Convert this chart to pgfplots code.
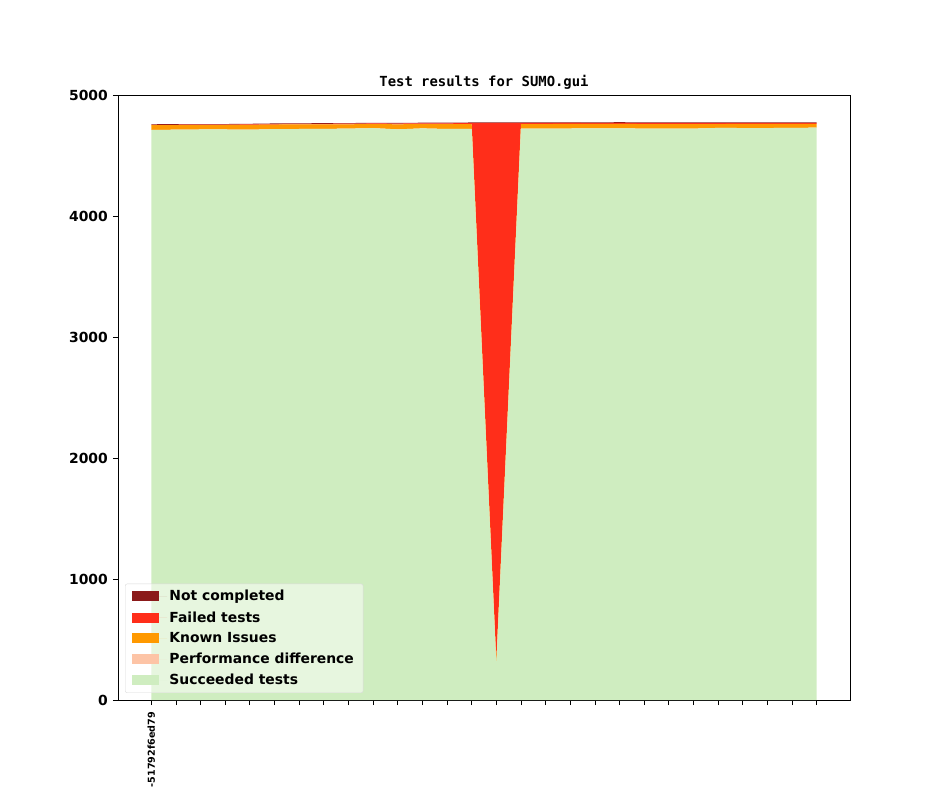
\documentclass[border=0pt]{standalone}
\usepackage{fontspec}
\setmainfont{DejaVu Sans}
\newfontfamily\monofont{DejaVu Sans Mono}
\usepackage{pgfplots}
\usepackage{pgfplotstable}
\pgfplotsset{compat=1.18}
\definecolor{cNC}{HTML}{8B1A1A}
\definecolor{cFail}{HTML}{FF2E1A}
\definecolor{cKnown}{HTML}{FF9900}
\definecolor{cPerf}{HTML}{FDC4A6}
\definecolor{cSucc}{HTML}{CFEDC0}
\pgfplotstableread{
x S P K F N
0 4712 0 38 3 5
1 4713 0 38 3 5
2 4715 0 37 3 5
3 4715 0 37 3 5
4 4713 0 40 4 5
5 4718 0 38 4 5
6 4719 0 38 4 5
7 4720 0 37 5 5
8 4722 0 36 5 5
9 4726 0 33 6 5
10 4716 0 42 6 5
11 4724 0 35 7 5
12 4719 0 40 7 5
13 4720 0 40 8 5
14 290 2 38 4438 5
15 4722 0 38 8 5
16 4722 0 38 8 5
17 4723 0 38 8 5
18 4725 0 36 7 6
19 4725 0 36 8 6
20 4722 0 38 8 6
21 4722 0 38 8 6
22 4722 0 38 8 6
23 4728 0 32 8 6
24 4727 0 34 7 6
25 4727 0 34 7 6
26 4728 0 33 7 6
27 4730 0 31 7 6
}\data
\begin{document}
\begin{tikzpicture}
\begin{axis}[
  name=ax,
  scale only axis,
  width=732pt, height=605pt,
  xmin=-1.35, xmax=28.35,
  ymin=0, ymax=5000,
  stack plots=y,
  axis line style={black, line width=0.8pt},
  tick align=outside,
  major tick length=5pt,
  every tick/.style={black, line width=0.8pt},
  xtick pos=bottom, ytick pos=left,
  xtick={0,...,27},
  xticklabels={-51792f6ed79},
  ytick={0,1000,2000,3000,4000,5000},
  /pgf/number format/assume math mode=true,
  /pgf/number format/1000 sep={},
  scaled y ticks=false,
  yticklabel style={font=\bfseries\fontsize{13.9}{16}\selectfont, inner sep=0pt, xshift=-5pt},
  xticklabel style={font=\bfseries\fontsize{9.6}{11}\selectfont, rotate=90, anchor=east, inner sep=0pt, xshift=-7pt},
  title={\monofont\bfseries\fontsize{13.9}{16}\selectfont Test results for SUMO.gui},
  title style={at={(0.5,1)}, anchor=base, yshift=2pt, inner sep=0pt},
  reverse legend,
  legend cell align=left,
  legend style={at={(0.0096,0.0116)}, anchor=south west,
    draw=black!15, rounded corners=2pt, fill=white, fill opacity=0.5, text opacity=1,
    font=\bfseries\fontsize{13.9}{16}\selectfont,
    row sep=4.6pt, inner xsep=7pt, inner ysep=4.3pt,
    nodes={inner sep=2.2pt}},
  legend image code/.code={\fill[#1, fill opacity=1, sharp corners] (0pt,-5pt) rectangle (27pt,5pt); \path (0pt,0pt) -- (35pt,0pt);},
]
\addplot[fill=cSucc, draw=none] table[x=x, y=S] {\data} \closedcycle;
\addlegendentry{Succeeded tests}
\addplot[fill=cPerf, draw=none] table[x=x, y=P] {\data} \closedcycle;
\addlegendentry{Performance difference}
\addplot[fill=cKnown, draw=none] table[x=x, y=K] {\data} \closedcycle;
\addlegendentry{Known Issues}
\addplot[fill=cFail, draw=none] table[x=x, y=F] {\data} \closedcycle;
\addlegendentry{Failed tests}
\addplot[fill=cNC, draw=none] table[x=x, y=N] {\data} \closedcycle;
\addlegendentry{Not completed}
\end{axis}
\path (ax.south west) ++(-118pt,-87pt) rectangle ++(944pt,787pt);
\end{tikzpicture}
\end{document}
